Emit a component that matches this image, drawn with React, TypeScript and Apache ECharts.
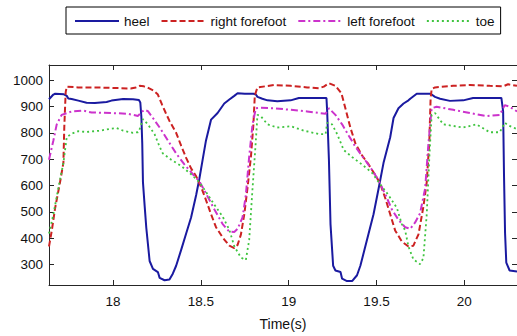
import React, { useEffect, useRef } from "react";
import * as echarts from "echarts";

const seriesNames = ["heel", "right forefoot", "left forefoot", "toe"];

const xTicks = [18, 18.5, 19, 19.5, 20];
const yTicks = [300, 400, 500, 600, 700, 800, 900, 1000];

const heel: [number, number][] = [
  [17.635, 927], [17.66, 945], [17.67, 948], [17.72, 946], [17.736, 940], [17.745, 930],
  [17.764, 928], [17.802, 922], [17.849, 914], [17.896, 913], [17.963, 917], [17.991, 922],
  [18.057, 928], [18.113, 927], [18.147, 924], [18.155, 915], [18.161, 860], [18.166, 760],
  [18.17, 613], [18.18, 520], [18.189, 440], [18.208, 314], [18.227, 284], [18.255, 272],
  [18.265, 250], [18.293, 241], [18.321, 244], [18.34, 266], [18.359, 296], [18.388, 357],
  [18.416, 418], [18.444, 479], [18.473, 564], [18.491, 625], [18.51, 698], [18.529, 771],
  [18.558, 850], [18.595, 875], [18.633, 911], [18.662, 926], [18.69, 940], [18.709, 950],
  [18.75, 948], [18.8, 948], [18.813, 945], [18.822, 936], [18.85, 929], [18.879, 923],
  [18.935, 920], [19.011, 923], [19.058, 932], [19.172, 932], [19.215, 932], [19.219, 881],
  [19.229, 698], [19.238, 454], [19.253, 296], [19.266, 278], [19.295, 272], [19.304, 247],
  [19.332, 238], [19.361, 238], [19.389, 260], [19.408, 296], [19.427, 345], [19.455, 418],
  [19.483, 491], [19.512, 589], [19.54, 686], [19.578, 783], [19.597, 856], [19.625, 893],
  [19.654, 911], [19.682, 923], [19.692, 929], [19.729, 948], [19.805, 948], [19.814, 945],
  [19.833, 936], [19.862, 929], [19.918, 921], [19.994, 923], [20.05, 932], [20.211, 932],
  [20.221, 881], [20.226, 640], [20.232, 420], [20.239, 308], [20.258, 278], [20.3, 274],
];

const rightForefoot: [number, number][] = [
  [17.635, 369], [17.651, 430], [17.67, 515], [17.698, 613], [17.717, 686], [17.722, 820],
  [17.73, 954], [17.736, 975], [17.8, 972], [17.9, 972], [18.0, 970], [18.1, 968],
  [18.13, 972], [18.151, 978], [18.175, 976], [18.2, 970], [18.23, 960], [18.255, 945],
  [18.28, 905], [18.3, 875], [18.321, 845], [18.359, 800], [18.388, 750], [18.416, 705],
  [18.444, 665], [18.473, 635], [18.501, 595], [18.529, 545], [18.558, 491], [18.586, 442],
  [18.624, 403], [18.662, 372], [18.69, 363], [18.709, 375], [18.728, 415], [18.747, 491],
  [18.765, 589], [18.785, 710], [18.799, 832], [18.807, 942], [18.822, 972], [18.917, 981],
  [19.011, 978], [19.105, 972], [19.172, 969], [19.2, 975], [19.229, 988], [19.266, 978],
  [19.3, 950], [19.325, 887], [19.351, 820], [19.38, 759], [19.417, 715], [19.455, 680],
  [19.493, 640], [19.521, 607], [19.55, 552], [19.578, 491], [19.606, 430], [19.644, 388],
  [19.682, 369], [19.71, 372], [19.739, 415], [19.767, 520], [19.786, 613], [19.801, 771],
  [19.808, 929], [19.814, 966], [19.833, 972], [19.937, 978], [20.032, 981], [20.145, 978],
  [20.221, 976], [20.249, 984], [20.3, 978],
];

const leftForefoot: [number, number][] = [
  [17.635, 698], [17.66, 771], [17.679, 832], [17.707, 868], [17.764, 881], [17.83, 884],
  [17.878, 877], [17.991, 875], [18.085, 872], [18.142, 864], [18.161, 878], [18.18, 887],
  [18.198, 882], [18.227, 856], [18.265, 820], [18.312, 771], [18.359, 722], [18.406, 680],
  [18.454, 643], [18.491, 616], [18.529, 570], [18.577, 509], [18.624, 454], [18.662, 425],
  [18.69, 424], [18.709, 436], [18.737, 479], [18.756, 564], [18.775, 710], [18.794, 832],
  [18.813, 893], [18.841, 895], [18.917, 893], [19.011, 887], [19.105, 881], [19.172, 875],
  [19.21, 872], [19.229, 893], [19.266, 868], [19.304, 832], [19.342, 789], [19.38, 747],
  [19.427, 704], [19.474, 660], [19.512, 619], [19.55, 567], [19.587, 510], [19.625, 470],
  [19.663, 442], [19.692, 436], [19.72, 460], [19.748, 495], [19.777, 589], [19.795, 753],
  [19.814, 893], [19.842, 899], [19.937, 887], [20.032, 875], [20.126, 863], [20.202, 868],
  [20.23, 905], [20.258, 899], [20.3, 881],
];

const toe: [number, number][] = [
  [17.635, 418], [17.66, 491], [17.688, 589], [17.717, 686], [17.736, 783], [17.764, 797],
  [17.802, 806], [17.849, 803], [17.925, 808], [17.991, 816], [18.019, 818], [18.057, 808],
  [18.113, 800], [18.142, 802], [18.151, 814], [18.17, 852], [18.198, 832], [18.236, 795],
  [18.265, 747], [18.283, 722], [18.331, 698], [18.388, 674], [18.444, 643], [18.491, 613],
  [18.529, 576], [18.577, 527], [18.624, 482], [18.662, 432], [18.69, 370], [18.728, 327],
  [18.756, 318], [18.775, 394], [18.794, 589], [18.813, 771], [18.822, 868], [18.841, 863],
  [18.879, 832], [18.935, 820], [19.011, 825], [19.087, 808], [19.172, 795], [19.21, 795],
  [19.219, 838], [19.247, 832], [19.276, 795], [19.313, 735], [19.361, 708], [19.417, 680],
  [19.474, 649], [19.512, 613], [19.568, 564], [19.616, 515], [19.644, 454], [19.663, 430],
  [19.682, 369], [19.71, 320], [19.748, 302], [19.767, 325], [19.786, 491], [19.801, 710],
  [19.814, 868], [19.833, 875], [19.88, 832], [19.937, 826], [19.994, 820], [20.069, 832],
  [20.145, 802], [20.202, 802], [20.23, 838], [20.258, 826], [20.3, 814],
];

const seriesData = [heel, rightForefoot, leftForefoot, toe];
const colors = ["#1a1aa0", "#cc2222", "#cc33cc", "#3fc43f"];
const dashes: any[] = ["solid", [6, 3], [7, 3, 2, 3], [2, 3]];
const widths = [2, 2, 2, 1.8];

const FONT = "'Liberation Sans', Arial, sans-serif";

export default function App() {
  const ref = useRef<HTMLDivElement>(null);
  useEffect(() => {
    if (!ref.current) return;
    const chart = echarts.init(ref.current, undefined, { renderer: "svg" });
    const axisColor = "#262626";
    const plain = (v: number) => String(v);
    chart.setOption({
      animation: false,
      backgroundColor: "#ffffff",
      textStyle: { fontFamily: FONT },
      legend: {
        left: 66,
        top: 7,
        padding: [7, 6, 6, 8],
        borderColor: "#000",
        borderWidth: 1,
        itemWidth: 44,
        itemHeight: 10,
        itemGap: 11,
        itemStyle: { opacity: 0 },
        data: seriesNames,
        textStyle: { fontSize: 13.5, color: "#111", fontFamily: FONT },
      },
      grid: { left: 49, right: -2, top: 65, bottom: 43 },
      xAxis: [
        {
          type: "value",
          min: 17.635,
          max: 20.3,
          name: "Time(s)",
          nameLocation: "middle",
          nameGap: 32,
          nameTextStyle: { fontSize: 14, color: "#111", fontFamily: FONT },
          axisLine: { show: true, lineStyle: { color: axisColor, width: 1 } },
          axisTick: { show: true, inside: true, length: 5, customValues: xTicks, lineStyle: { color: axisColor } },
          axisLabel: { show: true, margin: 9, fontSize: 13.5, color: "#111", customValues: xTicks, fontFamily: FONT, formatter: plain },
          splitLine: { show: false },
        },
        {
          type: "value",
          position: "top",
          min: 17.635,
          max: 20.3,
          axisLine: { show: true, onZero: false, lineStyle: { color: axisColor, width: 1 } },
          axisTick: { show: true, inside: true, length: 5, customValues: xTicks, lineStyle: { color: axisColor } },
          axisLabel: { show: false },
          splitLine: { show: false },
        },
      ],
      yAxis: [
        {
          type: "value",
          min: 223,
          max: 1057,
          axisLine: { show: true, lineStyle: { color: axisColor, width: 1 } },
          axisTick: { show: true, inside: true, length: 5, customValues: yTicks, lineStyle: { color: axisColor } },
          axisLabel: { show: true, margin: 6, fontSize: 13.5, color: "#111", customValues: yTicks, fontFamily: FONT, formatter: plain },
          splitLine: { show: false },
        },
        {
          type: "value",
          position: "right",
          min: 223,
          max: 1057,
          axisLine: { show: true, onZero: false, lineStyle: { color: axisColor, width: 1 } },
          axisTick: { show: true, inside: true, length: 5, customValues: yTicks, lineStyle: { color: axisColor } },
          axisLabel: { show: false },
          splitLine: { show: false },
        },
      ],
      series: seriesNames.map((name, i) => ({
        name,
        type: "line",
        xAxisIndex: 0,
        yAxisIndex: 0,
        data: seriesData[i],
        showSymbol: false,
        symbol: "none",
        color: colors[i],
        lineStyle: { color: colors[i], width: widths[i], type: dashes[i] },
        z: 2 + i,
      })),
    });
    return () => chart.dispose();
  }, []);
  return (
    <div
      ref={ref}
      style={{ position: "fixed", left: 0, top: 0, width: 517, height: 336, background: "#fff" }}
    />
  );
}
